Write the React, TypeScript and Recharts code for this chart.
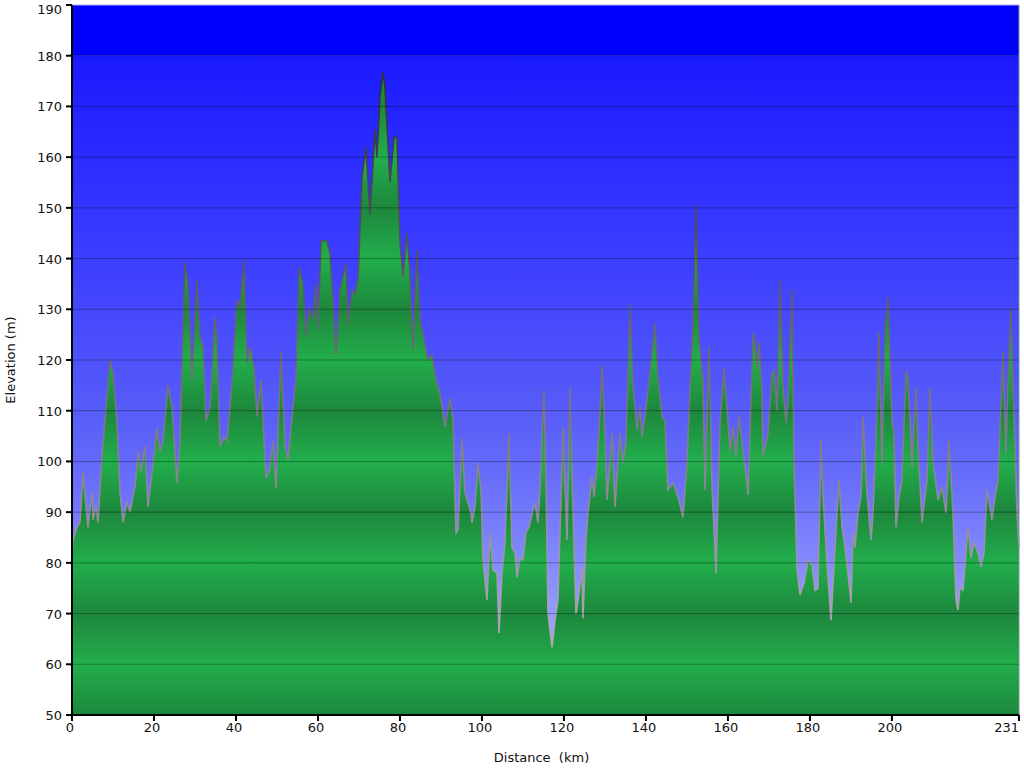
import React from 'react';
import { ComposedChart, Area, XAxis, YAxis, ReferenceArea, ReferenceLine, Label } from 'recharts';

const distanceKm = [
  0, 0.24, 1.22, 1.95, 2.68, 3.9, 4.88, 5.12, 5.85, 6.34, 7.32, 9.27, 10.0, 10.98, 11.71, 12.44, 13.42, 14.15, 15.37, 16.1,
  16.83, 17.81, 18.54, 19.51, 20.73, 21.47, 22.2, 23.42, 24.39, 25.61, 26.34, 27.56, 28.3, 29.27, 30.49, 31.22, 31.96, 32.69, 33.66, 34.88,
  35.37, 36.1, 37.08, 37.81, 39.03, 40.25, 40.98, 41.96, 42.69, 43.42, 44.4, 45.13, 46.1, 47.32, 48.05, 49.03, 49.76, 50.98, 51.96, 52.69,
  53.67, 54.64, 55.37, 56.35, 57.08, 57.81, 58.79, 59.52, 60.01, 60.74, 62.2, 62.93, 63.67, 64.4, 65.37, 66.84, 67.32, 68.3, 69.03, 69.76,
  70.74, 71.72, 72.69, 73.91, 74.4, 75.13, 75.86, 76.35, 77.57, 78.55, 79.28, 80.01, 80.74, 81.72, 82.45, 83.18, 84.16, 84.89, 85.86, 86.84,
  87.81, 88.79, 89.76, 90.99, 92.21, 92.94, 93.67, 94.16, 95.13, 95.86, 96.6, 97.33, 97.57, 98.3, 99.04, 99.77, 100.26, 101.23, 101.96, 102.69,
  103.67, 104.16, 104.89, 105.62, 106.6, 107.33, 108.06, 108.55, 109.28, 110.01, 110.74, 111.48, 112.45, 112.94, 113.67, 114.16, 115.13, 115.62, 116.11, 117.09,
  117.82, 118.55, 119.53, 119.77, 120.75, 121.48, 122.21, 122.94, 123.67, 124.4, 124.65, 125.38, 125.87, 126.84, 127.33, 128.06, 128.8, 129.28, 130.01, 130.5,
  130.99, 131.72, 132.45, 133.67, 134.41, 135.14, 136.11, 136.84, 137.82, 138.55, 139.04, 139.77, 140.5, 142.21, 142.94, 143.92, 144.65, 145.38, 146.6, 147.82,
  149.04, 150.02, 150.75, 151.48, 152.21, 152.94, 153.92, 154.41, 155.38, 156.12, 157.09, 158.07, 159.04, 159.77, 160.51, 161.24, 161.97, 162.7, 163.68, 164.17,
  164.9, 166.12, 166.61, 167.09, 167.58, 168.31, 168.56, 169.29, 169.78, 170.75, 171.24, 171.97, 172.7, 173.44, 174.17, 174.65, 175.63, 176.12, 176.85, 177.58,
  178.56, 179.53, 180.51, 181.24, 181.97, 182.7, 183.19, 184.17, 185.14, 186.12, 187.09, 187.83, 188.56, 189.29, 190.02, 190.51, 191.0, 191.73, 192.46, 192.95,
  193.92, 194.9, 195.39, 196.36, 196.85, 197.58, 198.32, 199.05, 200.02, 200.51, 201.0, 201.73, 202.46, 203.44, 203.92, 204.9, 205.88, 206.36, 207.34, 208.56,
  209.29, 210.02, 211.24, 212.22, 213.2, 213.93, 214.9, 215.63, 216.12, 216.61, 217.34, 218.56, 219.29, 220.02, 221.0, 221.73, 222.46, 223.2, 224.41, 225.15,
  225.88, 227.1, 227.83, 228.32, 229.05, 229.54, 230.51, 231.0,
];

const elevationM = [
  82, 84.5, 87, 88, 98, 87, 94, 88.5, 91, 88, 101, 120, 117.5, 107.6, 94, 88, 92, 90, 95, 102,
  98, 103, 91, 97.7, 106.6, 102, 104, 115, 110.7, 95.8, 104, 139.3, 135, 116, 135.8, 124.6, 122.6, 108, 110.7, 128.5,
  124, 102.9, 104.8, 104, 115.5, 131.8, 130.5, 139.7, 119.4, 122.6, 118.4, 108.8, 116, 96.7, 98, 104, 94.8, 121.6, 102.9, 100.3,
  108.8, 116, 138.4, 135, 124.6, 130.3, 128, 135, 126, 143.5, 143.5, 141, 132, 121, 134, 139, 127, 133.8, 133, 136,
  156, 162, 148.6, 165.4, 160, 172, 176.8, 173.9, 155, 164, 163.8, 143, 136.4, 145, 137, 122, 141.7, 128, 124, 120,
  121, 116, 113.5, 106.8, 112.5, 108, 85.9, 86.5, 104.6, 93.8, 91.8, 89.8, 87.9, 91, 99.7, 94.4, 80.6, 72.7, 86, 78.6,
  78, 66.2, 78, 84, 105.6, 83, 82, 77.2, 81, 80.6, 86, 87, 90.4, 91.8, 87.9, 95, 114, 96.4, 70, 63.4,
  68.7, 72.7, 99.7, 106.8, 84.5, 114.7, 89.8, 70, 74, 79.2, 69.1, 85.1, 89.8, 97, 93, 99.7, 109.6, 119, 105, 92.4,
  97.7, 105.6, 91, 105.6, 99.7, 104, 131, 115, 106.2, 110.7, 104.8, 108.8, 114, 127.3, 116.7, 108.8, 108, 94.4, 95.8, 93,
  89, 100, 114, 127, 150.6, 124, 116, 94.4, 122.6, 95, 78, 107.6, 118.4, 110.7, 102, 106.8, 100.9, 109, 102, 98.9,
  93.4, 125.3, 123.4, 118.6, 123.6, 114, 101, 103.6, 105.6, 117.5, 118, 110, 135.8, 114.7, 107.6, 112.7, 133.8, 100, 78.6, 73.7,
  76, 80.6, 79.5, 74.6, 75, 104.2, 93, 80, 68.7, 83, 96.4, 87, 83, 78, 72.1, 85.9, 83, 89.8, 93, 108.8,
  93.8, 84.5, 89.8, 109.6, 125.5, 99.7, 126, 132.4, 108.2, 105.6, 87, 93, 96.4, 118, 116.7, 98.9, 114.5, 102.9, 87.9, 96.4,
  114.5, 99.7, 92.4, 95, 89.8, 104.2, 89.8, 72.7, 70.7, 75.2, 74.6, 87, 81, 84, 82, 79.2, 82, 94.4, 88.5, 93,
  96.4, 121.6, 101.7, 116, 130.3, 116, 89.8, 83,
];

const xTicks = [0, 20, 40, 60, 80, 100, 120, 140, 160, 180, 200, 231];
const yTicks = [50, 60, 70, 80, 90, 100, 110, 120, 130, 140, 150, 160, 170, 180, 190];
const gridLevels = [60, 70, 80, 90, 100, 110, 120, 130, 140, 150, 160, 170, 180];

const data = distanceKm.map((km, i) => ({ km, elev: elevationM[i] }));

const Y_MIN = 50;
const Y_MAX = 190;
const SKY_TOP = 180;
const maxElev = Math.max(...elevationM);
const minElev = Math.min(...elevationM);

const skyStops: [number, string][] = [
  [180, '#1a1aff'],
  [140, '#3c3eff'],
  [110, '#575cf8'],
  [95, '#6a70fa'],
  [70, '#959cff'],
  [50, '#a8b0ff'],
];

const greenStops = yTicks
  .filter((v) => v <= maxElev)
  .slice()
  .reverse()
  .map((v) => ({
    offset: (maxElev - v) / (maxElev - Y_MIN),
    color: (v / 10) % 2 === 0 ? '#22ae4c' : '#1d873c',
  }));

const FONT = 'DejaVu Sans, Verdana, sans-serif';

const XTick = (props: any) => {
  const { x, y, payload } = props;
  const last = payload.value === xTicks[xTicks.length - 1];
  return (
    <text
      x={last ? x : x - 2}
      y={y + 9}
      textAnchor={last ? 'end' : 'middle'}
      fontFamily={FONT}
      fontSize={13}
      fill="#111"
    >
      {payload.value}
    </text>
  );
};

const YTick = (props: any) => {
  const { x, y, payload } = props;
  const top = payload.value === Y_MAX;
  return (
    <text x={x - 2} y={top ? y + 9 : y + 5} textAnchor="end" fontFamily={FONT} fontSize={13} fill="#111">
      {payload.value}
    </text>
  );
};

const YTitle = (props: any) => {
  const vb = props.viewBox || { x: 0, y: 0, width: 0, height: 0 };
  const cx = vb.x + 10;
  const cy = vb.y + vb.height / 2;
  return (
    <text
      x={cx}
      y={cy}
      transform={`rotate(-90 ${cx} ${cy})`}
      textAnchor="middle"
      dominantBaseline="central"
      fontFamily={FONT}
      fontSize={13}
      fill="#111"
    >
      Elevation (m)
    </text>
  );
};

const XTitle = (props: any) => {
  const vb = props.viewBox || { x: 0, y: 0, width: 0, height: 0 };
  const cx = vb.x + vb.width / 2 - 4;
  const cy = vb.y + 42;
  return (
    <text
      x={cx}
      y={cy}
      textAnchor="middle"
      dominantBaseline="central"
      fontFamily={FONT}
      fontSize={13}
      fill="#111"
      style={{ whiteSpace: 'pre' }}
    >
      {'Distance\u00a0\u00a0(km)'}
    </text>
  );
};

export default function App() {
  return (
    <div style={{ position: 'absolute', left: 0, top: 0, width: 1024, height: 768, background: '#fff' }}>
      <ComposedChart width={1024} height={768} data={data} margin={{ top: 5, right: 5, bottom: 0, left: 0 }}>
        <defs>
          <linearGradient id="skyGrad" x1="0" y1="0" x2="0" y2="1">
            {skyStops.map(([v, c]) => (
              <stop key={v} offset={(SKY_TOP - v) / (SKY_TOP - Y_MIN)} stopColor={c} />
            ))}
          </linearGradient>
          <linearGradient id="groundGrad" x1="0" y1="0" x2="0" y2="1">
            {greenStops.map((s, i) => (
              <stop key={i} offset={s.offset} stopColor={s.color} />
            ))}
          </linearGradient>
          <linearGradient id="edgeGrad" x1="0" y1="0" x2="0" y2="1">
            <stop offset={0} stopColor="#2e2e3a" />
            <stop offset={(maxElev - 130) / (maxElev - minElev)} stopColor="#606070" />
            <stop offset={1} stopColor="#b0aab8" />
          </linearGradient>
        </defs>
        <XAxis
          dataKey="km"
          type="number"
          domain={[0, 231]}
          ticks={xTicks}
          interval={0}
          height={53}
          tick={<XTick />}
          tickSize={6}
          axisLine={{ stroke: '#000', strokeWidth: 2 }}
          tickLine={{ stroke: '#000', strokeWidth: 2 }}
        >
          <Label content={<XTitle />} />
        </XAxis>
        <YAxis
          type="number"
          domain={[Y_MIN, Y_MAX]}
          ticks={yTicks}
          interval={0}
          width={72}
          tick={<YTick />}
          tickSize={6}
          axisLine={{ stroke: '#000', strokeWidth: 2 }}
          tickLine={{ stroke: '#000', strokeWidth: 2 }}
        >
          <Label content={<YTitle />} />
        </YAxis>
        <ReferenceArea y1={SKY_TOP} y2={Y_MAX} fill="#0000ff" fillOpacity={1} stroke="none" zIndex={-60} />
        <ReferenceArea y1={Y_MIN} y2={SKY_TOP} fill="url(#skyGrad)" fillOpacity={1} stroke="none" zIndex={-60} />
        <Area
          type="linear"
          dataKey="elev"
          fill="url(#groundGrad)"
          fillOpacity={1}
          stroke="url(#edgeGrad)"
          strokeWidth={1.6}
          isAnimationActive={false}
          dot={false}
          activeDot={false}
        />
        {gridLevels.map((v) => (
          <ReferenceLine
            key={v}
            y={v}
            stroke={v === SKY_TOP ? 'rgba(0,0,60,0.45)' : 'rgba(0,0,0,0.32)'}
            strokeWidth={1}
            zIndex={150}
          />
        ))}
        <ReferenceLine y={Y_MAX} stroke="#a8a8ff" strokeWidth={1} zIndex={150} />
        <ReferenceLine x={231} stroke="#6a9a8a" strokeWidth={1} zIndex={150} />
      </ComposedChart>
    </div>
  );
}
